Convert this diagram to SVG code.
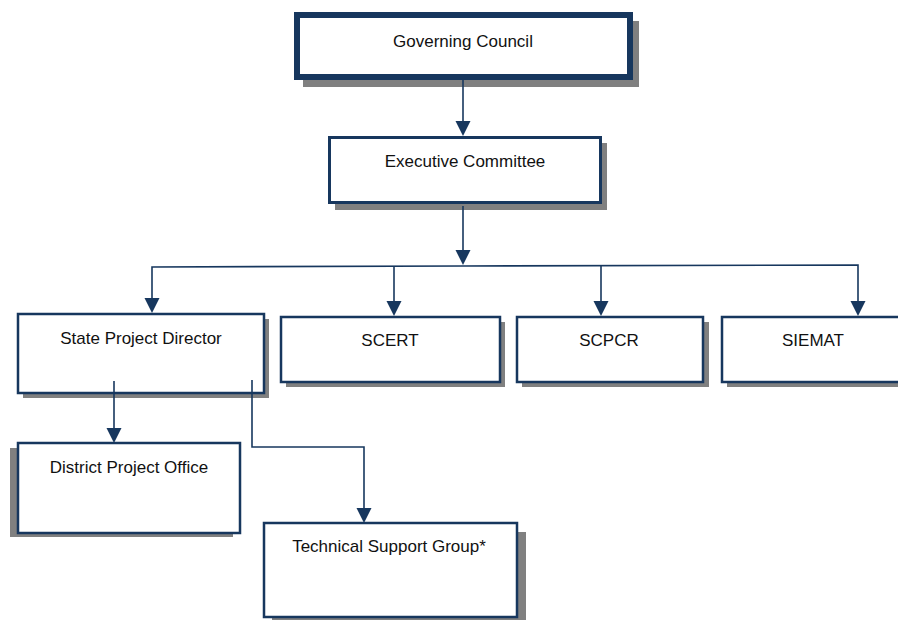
<svg xmlns="http://www.w3.org/2000/svg" width="898" height="620" viewBox="0 0 898 620">
<defs>
<style>
.box{fill:#fff;stroke:#17375e;stroke-width:2.5}
.sh{fill:#808080}
.t{font-family:"Liberation Sans",Arial,sans-serif;font-size:17px;fill:#111;text-anchor:middle}
.c{fill:none;stroke:#17375e;stroke-width:1.6}
.h{fill:#17375e}
</style>
</defs>
<rect width="898" height="620" fill="#fff"/>
<g id="governing-council">
<rect class="sh" x="303" y="21" width="336" height="66"/>
<rect x="297" y="15" width="333" height="62" fill="#fff" stroke="#17375e" stroke-width="6"/>
<text class="t" x="463" y="47">Governing Council</text>
</g>
<g id="executive-committee">
<rect class="sh" x="335" y="143" width="272" height="67"/>
<rect x="329.5" y="137.5" width="271" height="65" fill="#fff" stroke="#17375e" stroke-width="3"/>
<text class="t" x="465" y="167">Executive Committee</text>
</g>
<g id="state-project-director">
<rect class="sh" x="23" y="319" width="246" height="79"/>
<rect class="box" x="18" y="314" width="246" height="79"/>
<text class="t" x="141" y="344">State Project Director</text>
</g>
<g id="scert">
<rect class="sh" x="286" y="322" width="219" height="65"/>
<rect class="box" x="281" y="317" width="219" height="65"/>
<text class="t" x="390" y="346">SCERT</text>
</g>
<g id="scpcr">
<rect class="sh" x="522" y="322" width="187" height="65"/>
<rect class="box" x="517" y="317" width="186" height="65"/>
<text class="t" x="609" y="346">SCPCR</text>
</g>
<g id="siemat">
<rect class="sh" x="727" y="322" width="190" height="65"/>
<rect class="box" x="722" y="317" width="190" height="65"/>
<text class="t" x="813" y="346">SIEMAT</text>
</g>
<g id="district-project-office">
<rect class="sh" x="10" y="448" width="223" height="89"/>
<rect class="box" x="18" y="443" width="222" height="90"/>
<text class="t" x="129" y="473">District Project Office</text>
</g>
<g id="technical-support-group">
<rect class="sh" x="272" y="532" width="254" height="95"/>
<rect class="box" x="264" y="523" width="253" height="94"/>
<text class="t" x="389" y="552">Technical Support Group*</text>
</g>
<g id="connectors">
<line class="c" x1="463" y1="80" x2="463" y2="124"/>
<path class="h" d="M455.5,121 L470.5,121 L463,136 Z"/>
<line class="c" x1="463" y1="206" x2="463" y2="253"/>
<path class="h" d="M455.5,250 L470.5,250 L463,265 Z"/>
<polyline class="c" points="152,301 152,267 463,266 858,265 858,304"/>
<path class="h" d="M144.5,298 L159.5,298 L152,313 Z"/>
<line class="c" x1="394" y1="266" x2="394" y2="304"/>
<path class="h" d="M386.5,301 L401.5,301 L394,316 Z"/>
<line class="c" x1="601" y1="265" x2="601" y2="304"/>
<path class="h" d="M593.5,301 L608.5,301 L601,316 Z"/>
<path class="h" d="M850.5,301 L865.5,301 L858,316 Z"/>
<line class="c" x1="114" y1="381" x2="114" y2="431"/>
<path class="h" d="M106.5,428 L121.5,428 L114,443 Z"/>
<polyline class="c" points="252,380 252,447 364,447 364,511"/>
<path class="h" d="M356.5,508 L371.5,508 L364,523 Z"/>
</g>
</svg>
